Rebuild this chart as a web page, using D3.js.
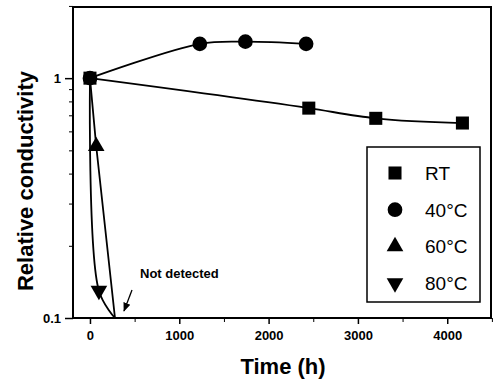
<!DOCTYPE html>
<html>
<head>
<meta charset="utf-8">
<script src="https://cdn.jsdelivr.net/npm/d3@7"></script>
<style>
  body { margin: 0; background: #fff; }
  svg { font-family: "Liberation Sans", Arial, sans-serif; }
</style>
</head>
<body>
<div id="chart"></div>
<script>
// data
var rtData = [[0, 1], [2450, 0.75], [3200, 0.68], [4170, 0.65]];
var c40Data = [[0, 1], [1230, 1.39], [1740, 1.42], [2420, 1.39]];
var c60Data = [[0, 1], [70, 0.52]];
var c80Data = [[0, 1], [100, 0.13]];
var endPoint = [280, 0.1];   // lines end at "not detected"
var xTicks = [0, 1000, 2000, 3000, 4000];
var xMinor = [500, 1500, 2500, 3500, 4500];
var yTicks = [0.1, 1];
var yMinor = [0.2, 0.3, 0.4, 0.5, 0.6, 0.7, 0.8, 0.9, 2];
var legendItems = ["RT", "40°C", "60°C", "80°C"];

var W = 495, H = 383;
var pLeft = 73, pRight = 491, pTop = 7, pBottom = 318;

var svg = d3.select("#chart").append("svg")
    .attr("width", W).attr("height", H);

var x = d3.scaleLinear().domain([-190, 4490]).range([pLeft, pRight]);
var y = d3.scaleLog().domain([0.1, 1.98]).range([pBottom, pTop]);

// frame
svg.append("rect")
    .attr("x", pLeft).attr("y", pTop)
    .attr("width", pRight - pLeft).attr("height", pBottom - pTop)
    .attr("fill", "none").attr("stroke", "#000").attr("stroke-width", 2);

// x axis
var xAxis = svg.append("g").attr("transform", "translate(0," + pBottom + ")")
    .call(d3.axisBottom(x).tickValues(xTicks).tickSize(6).tickPadding(7).tickFormat(d3.format("d")));
xAxis.select(".domain").remove();
xAxis.selectAll("line").attr("stroke-width", 1.5);
xAxis.selectAll("text").style("font-size", "13px").style("font-weight", "bold").attr("fill", "#000");
svg.append("g").attr("transform", "translate(0," + pBottom + ")")
    .call(d3.axisBottom(x).tickValues(xMinor).tickSize(4).tickFormat(""))
    .call(function(g) { g.select(".domain").remove(); });

// y axis
var yAxis = svg.append("g").attr("transform", "translate(" + pLeft + ",0)")
    .call(d3.axisLeft(y).tickValues(yTicks).tickSize(8).tickPadding(4).tickFormat(function(d) { return d === 1 ? "1" : "0.1"; }));
yAxis.select(".domain").remove();
yAxis.selectAll("line").attr("stroke-width", 1.5);
yAxis.selectAll("text").style("font-size", "13px").style("font-weight", "bold").attr("fill", "#000");
svg.append("g").attr("transform", "translate(" + pLeft + ",0)")
    .call(d3.axisLeft(y).tickValues(yMinor).tickSize(4).tickFormat(""))
    .call(function(g) { g.select(".domain").remove(); });

// axis titles
svg.append("text")
    .attr("x", 283).attr("y", 374)
    .attr("text-anchor", "middle")
    .style("font-size", "22px").style("font-weight", "bold")
    .text("Time (h)");
svg.append("text")
    .attr("transform", "translate(33,181) rotate(-90)")
    .attr("text-anchor", "middle")
    .style("font-size", "22px").style("font-weight", "bold")
    .text("Relative conductivity");

var plot = svg.append("g");

var smooth = d3.line()
    .x(function(d) { return x(d[0]); })
    .y(function(d) { return y(d[1]); })
    .curve(d3.curveMonotoneX);
var straight = d3.line()
    .x(function(d) { return x(d[0]); })
    .y(function(d) { return y(d[1]); });
var curvy = d3.line()
    .x(function(d) { return x(d[0]); })
    .y(function(d) { return y(d[1]); })
    .curve(d3.curveCatmullRom);

plot.append("path").attr("d", smooth(rtData))
    .attr("fill", "none").attr("stroke", "#000").attr("stroke-width", 1.8);
plot.append("path").attr("d", curvy(c40Data))
    .attr("fill", "none").attr("stroke", "#000").attr("stroke-width", 1.8);
plot.append("path").attr("d", straight(c60Data.concat([endPoint])))
    .attr("fill", "none").attr("stroke", "#000").attr("stroke-width", 1.8);
plot.append("path").attr("d", curvy(c80Data.concat([endPoint])))
    .attr("fill", "none").attr("stroke", "#000").attr("stroke-width", 1.8);

var symSquare = d3.symbol().type(d3.symbolSquare).size(170);
var symCircle = d3.symbol().type(d3.symbolCircle).size(170);
var symUp = d3.symbol().type(d3.symbolTriangle).size(120);

function drawMarks(data, sym, rot) {
  plot.selectAll(null).data(data).enter().append("path")
      .attr("d", sym)
      .attr("transform", function(d) {
        return "translate(" + x(d[0]) + "," + y(d[1]) + ")" + (rot ? " rotate(180)" : "");
      })
      .attr("fill", "#000");
}
drawMarks(c40Data, symCircle, false);
drawMarks(c60Data.slice(1), symUp, false);
drawMarks(c80Data.slice(1), symUp, true);
drawMarks(rtData, symSquare, false);

// not detected note
svg.append("text")
    .attr("x", 140).attr("y", 278)
    .style("font-size", "13px").style("font-weight", "bold")
    .text("Not detected");
svg.append("defs").append("marker")
    .attr("id", "arrow").attr("viewBox", "0 0 10 10")
    .attr("refX", 9).attr("refY", 5)
    .attr("markerWidth", 7).attr("markerHeight", 7)
    .attr("orient", "auto")
  .append("path").attr("d", "M0,1 L10,5 L0,9 Z").attr("fill", "#000");
svg.append("line")
    .attr("x1", 132).attr("y1", 290).attr("x2", 124).attr("y2", 311)
    .attr("stroke", "#000").attr("stroke-width", 1.3)
    .attr("marker-end", "url(#arrow)");

// legend
var lg = svg.append("g");
lg.append("rect")
    .attr("x", 367).attr("y", 147).attr("width", 113).attr("height", 155)
    .attr("fill", "#fff").attr("stroke", "#000").attr("stroke-width", 1.5);
var legSyms = [
  { sym: symSquare, rot: false },
  { sym: symCircle, rot: false },
  { sym: symUp, rot: false },
  { sym: symUp, rot: true }
];
legendItems.forEach(function(name, i) {
  var cy = 173 + i * 36.7;
  lg.append("path").attr("d", legSyms[i].sym)
      .attr("transform", "translate(395," + cy + ")" + (legSyms[i].rot ? " rotate(180)" : ""))
      .attr("fill", "#000");
  lg.append("text")
      .attr("x", 425).attr("y", cy + 7)
      .style("font-size", "19px")
      .text(name);
});
</script>
</body>
</html>
